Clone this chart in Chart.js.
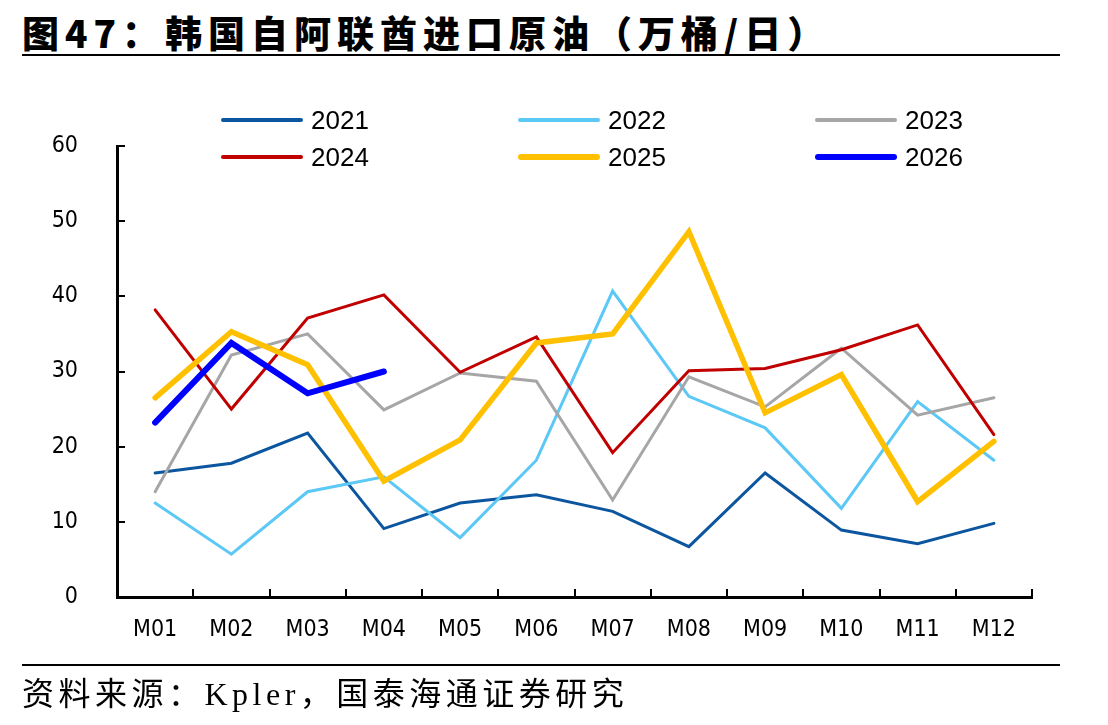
<!DOCTYPE html>
<html>
<head>
<meta charset="utf-8">
<script src="https://cdn.jsdelivr.net/npm/chart.js@4.4.1/dist/chart.umd.min.js"></script>
<style>
  body { margin: 0; background: #fff; }
  #wrap { position: relative; width: 1108px; height: 725px; overflow: hidden; }
  #chart { position: absolute; left: 0; top: 0; }
  .title { position: absolute; left: 22px; top: 5px; font-family: "Noto Sans CJK SC", sans-serif; font-weight: 900; font-size: 37px; letter-spacing: 6px; color: #000; white-space: nowrap; }
  .rule { position: absolute; left: 22px; width: 1038px; height: 2px; background: #000; }
  .source { position: absolute; left: 22px; top: 668px; font-family: "Liberation Serif", "Noto Sans CJK SC", serif; font-size: 32px; letter-spacing: 4.5px; color: #000; white-space: nowrap; }
  .leg { position: absolute; height: 30px; }
  .leg span.ln { position: absolute; left: 0; width: 82px; border-radius: 4px; }
  .leg span.tx { position: absolute; left: 90px; top: 0; font-family: "Liberation Sans", Arial, sans-serif; font-size: 26px; line-height: 30px; color: #000; }
</style>
</head>
<body>
<div id="wrap">
  <div class="title">图47：韩国自阿联酋进口原油（万桶/日）</div>
  <div class="rule" style="top:54px"></div>
  <canvas id="chart" width="1108" height="725"></canvas>
  <div id="legend"></div>
  <div class="rule" style="top:664px"></div>
  <div class="source">资料来源：Kpler，国泰海通证券研究</div>
</div>
<script>
var months = ["M01", "M02", "M03", "M04", "M05", "M06", "M07", "M08", "M09", "M10", "M11", "M12"];
var years = ["2021", "2022", "2023", "2024", "2025", "2026"];
var colors = ["#0C56A0", "#5BC8F5", "#A6A6A6", "#C00000", "#FFC000", "#0000FF"];
var widths = [3, 3, 3, 3, 5.5, 6];

var y2021 = [16.5, 17.8, 21.8, 9.1, 12.5, 13.6, 11.4, 6.7, 16.5, 8.9, 7.1, 9.8];
var y2022 = [12.5, 5.7, 14.0, 16.0, 7.9, 18.2, 40.7, 26.7, 22.5, 11.8, 26.0, 18.2];
var y2023 = [14.0, 32.2, 35.0, 24.9, 29.8, 28.7, 12.9, 29.3, 25.3, 33.1, 24.2, 26.5];
var y2024 = [38.2, 25.0, 37.1, 40.2, 29.9, 34.6, 19.2, 30.1, 30.4, 32.9, 36.2, 21.6];
var y2025 = [26.5, 35.3, 30.9, 15.4, 20.9, 33.8, 35.0, 48.6, 24.5, 29.6, 12.7, 20.7];
var y2026 = [23.2, 33.8, 27.1, 30.0];
var series = [y2021, y2022, y2023, y2024, y2025, y2026];

var tickFont = { family: "'Liberation Sans Narrow', 'DejaVu Sans Condensed', 'Liberation Sans', sans-serif", size: 23 };

var datasets = [];
for (var i = 0; i < years.length; i++) {
    datasets.push({
        label: years[i],
        data: series[i],
        borderColor: colors[i],
        backgroundColor: colors[i],
        borderWidth: widths[i],
        borderCapStyle: "round",
        borderJoinStyle: "miter",
        pointRadius: 0,
        tension: 0,
        fill: false,
        order: years.length - i
    });
}

// legend in 3 columns x 2 rows
var legend = document.getElementById("legend");
var colX = [221, 518, 815];
var rowY = [120, 157];
for (var k = 0; k < years.length; k++) {
    var item = document.createElement("div");
    item.className = "leg";
    item.style.left = colX[k % 3] + "px";
    item.style.top = (rowY[Math.floor(k / 3)] - 15) + "px";
    var lw = k >= 4 ? 6 : 4;
    item.innerHTML = '<span class="ln" style="top:' + (15 - lw / 2) + 'px;height:' + lw + 'px;background:' + colors[k] + '"></span>' +
        '<span class="tx">' + years[k] + '</span>';
    legend.appendChild(item);
}

var ctx = document.getElementById("chart");
new Chart(ctx, {
    type: "line",
    data: { labels: months, datasets: datasets },
    options: {
        responsive: false,
        animation: false,
        layout: { padding: { left: 0, top: 146, right: 76, bottom: 0 } },
        plugins: { legend: { display: false }, tooltip: { enabled: false } },
        scales: {
            x: {
                offset: true,
                grid: { display: true, offset: true, drawOnChartArea: false, drawTicks: true, tickLength: -8, color: "#000", lineWidth: 2 },
                border: { display: true, color: "#000", width: 3 },
                ticks: { color: "#000", font: tickFont, padding: 27, maxRotation: 0 },
                afterFit: function (s) { s.height = 128; }
            },
            y: {
                min: 0,
                max: 60,
                grid: { display: true, drawOnChartArea: false, drawTicks: true, tickLength: -8, color: "#000", lineWidth: 2 },
                border: { display: true, color: "#000", width: 3 },
                ticks: { stepSize: 10, color: "#000", font: tickFont, padding: 47 },
                afterFit: function (s) { s.width = 117; }
            }
        }
    }
});
</script>
</body>
</html>
